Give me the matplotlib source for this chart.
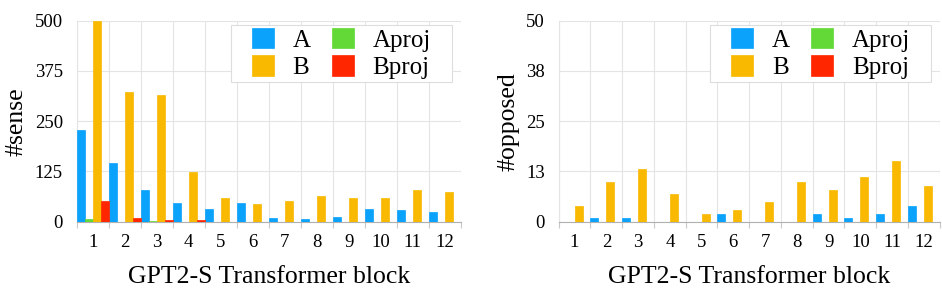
import numpy as np
import matplotlib.pyplot as plt
from matplotlib.patches import Rectangle

plt.rcParams['font.family'] = ['Liberation Serif', 'DejaVu Serif']

blocks = [str(i) for i in range(1, 13)]

# left panel: #sense
sense_A = [228, 146, 79, 47, 31, 46, 10, 7, 12, 31, 29, 24]
sense_Aproj = [7, 0, 2, 0, 0, 0, 0, 0, 0, 0, 0, 0]
sense_B = [500, 323, 314, 124, 58, 45, 51, 64, 59, 60, 79, 73]
sense_Bproj = [52, 10, 4, 4, 0, 0, 0, 0, 0, 0, 0, 0]

# right panel: #opposed
opp_A = [0, 1, 1, 0, 0, 2, 0, 0, 2, 1, 2, 4]
opp_Aproj = [0] * 12
opp_B = [4, 10, 13, 7, 2, 3, 5, 10, 8, 11, 15, 9]
opp_Bproj = [0] * 12

series_names = ["A", "Aproj", "B", "Bproj"]
colors = ["#0ba2fb", "#62d937", "#f8b900", "#ff2600"]

sense_ticks = [0, 125, 250, 375, 500]
opp_ticks = [0, 12.5, 25, 37.5, 50]
opp_ticklabels = ["0", "13", "25", "38", "50"]

fig = plt.figure(figsize=(9.42, 2.91), dpi=100)
W, H = 942, 291
legends = []


def draw(ax, data, ymax, yticks, yticklabels, ylabel):
    x = np.arange(len(blocks))
    w = 0.25
    for i, (name, vals, c) in enumerate(zip(series_names, data, colors)):
        ax.bar(x + (i - 1.5) * w, vals, width=w, color=c, label=name,
               edgecolor=c, linewidth=0.5, zorder=3)
    ax.set_xlim(-0.5, len(blocks) - 0.5)
    ax.set_ylim(0, ymax)
    ax.set_xticks(x)
    ax.set_xticklabels(blocks)
    ax.set_xticks(np.arange(-0.5, len(blocks)), minor=True)
    ax.set_yticks(yticks)
    ax.set_yticklabels(yticklabels)
    ax.tick_params(axis='x', which='major', length=0, pad=9, labelsize=13.5)
    ax.tick_params(axis='x', which='minor', length=4, color='#c8c8c8', width=0.8)
    ax.tick_params(axis='y', length=0, pad=10, labelsize=13.5)
    ax.grid(True, axis='x', which='minor', color='#e4e4e4', lw=0.8, zorder=0)
    ax.grid(True, axis='y', which='major', color='#e4e4e4', lw=0.8, zorder=0)
    ax.grid(False, axis='x', which='major')
    for s in ['top', 'right']:
        ax.spines[s].set_visible(False)
    ax.spines['left'].set_color('#e4e4e4')
    ax.spines['bottom'].set_color('#b0b0b0')
    ax.set_xlabel("GPT2-S Transformer block", fontsize=18.5, labelpad=11)
    ax.set_ylabel(ylabel, fontsize=18.5, labelpad=5)
    handles, labels = ax.get_legend_handles_labels()
    order = [0, 2, 1, 3]
    leg = ax.legend([handles[k] for k in order], [labels[k] for k in order],
                    ncol=2, loc='upper right', bbox_to_anchor=(0.93, 0.98),
                    fontsize=18, handlelength=0.88, handleheight=0.88,
                    handletextpad=0.75, columnspacing=0.85, labelspacing=0.15,
                    borderpad=0.12, borderaxespad=0.0, frameon=False)
    leg.set_zorder(6)
    legends.append(leg)


ax1 = fig.add_axes([76.7 / W, (H - 221.7) / H, 384 / W, 201 / H])
draw(ax1, [sense_A, sense_Aproj, sense_B, sense_Bproj], 500,
     sense_ticks, [str(t) for t in sense_ticks], "#sense")

ax2 = fig.add_axes([558.7 / W, (H - 221.7) / H, 381 / W, 201 / H])
draw(ax2, [opp_A, opp_Aproj, opp_B, opp_Bproj], 50,
     opp_ticks, opp_ticklabels, "#opposed")

# legend frame with wider horizontal padding than vertical
fig.canvas.draw()
for leg in legends:
    bb = leg.get_window_extent().transformed(fig.transFigure.inverted())
    padx = 18 / W
    rect = Rectangle((bb.x0 - padx, bb.y0), bb.width + 2 * padx, bb.height,
                     transform=fig.transFigure, facecolor='white',
                     edgecolor='#dddddd', linewidth=0.8, zorder=5)
    fig.add_artist(rect)
    fig.add_artist(leg)

fig.savefig("out.png", dpi=100)
